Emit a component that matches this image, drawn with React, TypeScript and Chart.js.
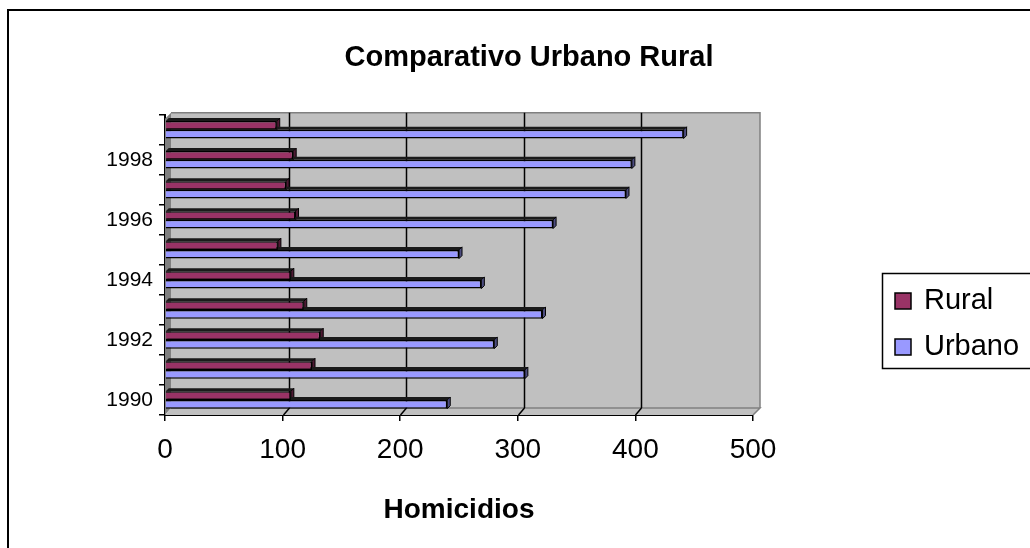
import { useEffect, useRef } from 'react';
import { Chart, registerables } from 'chart.js';

Chart.register(...registerables);

const years = ['1990', '1991', '1992', '1993', '1994', '1995', '1996', '1997', '1998', '1999'];
const rural = [107, 125, 132, 118, 107, 96, 111, 103, 109, 95];
const urbano = [240, 306, 280, 321, 269, 250, 330, 392, 397, 441];
const seriesNames = ['Rural', 'Urbano'];
const seriesColors = ['#993366', '#9999FF'];
const sideColors = ['#4d1a33', '#4d4d80'];
const xMin = 0;
const xMax = 500;
const xStep = 100;
const chartTitle = 'Comparativo Urbano Rural';
const xTitle = 'Homicidios';

const FONT = '"Liberation Sans", Arial, sans-serif';

const decor = {
  id: 'decor3d',
  beforeDatasetsDraw(chart: any) {
    const { ctx, chartArea: ca, scales } = chart;
    const x = scales.x;
    const bl = ca.left + 6;
    const bt = ca.top - 2;
    const br = ca.right + 7;
    const bb = ca.bottom - 7;
    ctx.save();
    // back wall
    ctx.fillStyle = '#C0C0C0';
    ctx.fillRect(bl, bt, br - bl, bb - bt);
    // left wall
    ctx.fillStyle = '#808080';
    ctx.beginPath();
    ctx.moveTo(ca.left, bt + 6);
    ctx.lineTo(bl, bt);
    ctx.lineTo(bl, bb);
    ctx.lineTo(ca.left, ca.bottom);
    ctx.closePath();
    ctx.fill();
    // floor
    ctx.fillStyle = '#C0C0C0';
    ctx.beginPath();
    ctx.moveTo(ca.left, ca.bottom);
    ctx.lineTo(bl, bb);
    ctx.lineTo(br, bb);
    ctx.lineTo(ca.right, ca.bottom);
    ctx.closePath();
    ctx.fill();
    ctx.strokeStyle = '#808080';
    ctx.lineWidth = 1.5;
    ctx.beginPath();
    ctx.moveTo(bl, bb);
    ctx.lineTo(br, bb);
    ctx.lineTo(ca.right, ca.bottom);
    ctx.stroke();
    // back wall border top/right
    ctx.beginPath();
    ctx.moveTo(bl, bt);
    ctx.lineTo(br, bt);
    ctx.lineTo(br, bb);
    ctx.stroke();
    // gridlines
    ctx.strokeStyle = '#000';
    ctx.lineWidth = 1.5;
    for (let v = xMin + xStep; v < xMax; v += xStep) {
      const px = Math.round(x.getPixelForValue(v)) + 0.5;
      ctx.beginPath();
      ctx.moveTo(px + 6, bt);
      ctx.lineTo(px + 6, bb);
      ctx.moveTo(px + 6, bb);
      ctx.lineTo(px, ca.bottom);
      ctx.stroke();
    }
    // 3D faces of bars
    chart.data.datasets.forEach((ds: any, di: number) => {
      const meta = chart.getDatasetMeta(di);
      meta.data.forEach((el: any) => {
        const h = el.height;
        const top = el.y - h / 2;
        const bot = el.y + h / 2;
        const d = 3;
        ctx.fillStyle = '#1a1a1a';
        ctx.beginPath();
        ctx.moveTo(el.base, top);
        ctx.lineTo(el.base + d, top - d);
        ctx.lineTo(el.x + d, top - d);
        ctx.lineTo(el.x, top);
        ctx.closePath();
        ctx.fill();
        ctx.fillStyle = sideColors[di];
        ctx.strokeStyle = '#000';
        ctx.lineWidth = 1;
        ctx.beginPath();
        ctx.moveTo(el.x, top);
        ctx.lineTo(el.x + d, top - d);
        ctx.lineTo(el.x + d, bot - d);
        ctx.lineTo(el.x, bot);
        ctx.closePath();
        ctx.fill();
        ctx.stroke();
      });
    });
    ctx.restore();
  },
  afterDraw(chart: any) {
    const { ctx } = chart;
    ctx.save();
    // outer frame
    ctx.fillStyle = '#000';
    ctx.fillRect(7, 9, 1100, 2);
    ctx.fillRect(7, 9, 2, 600);
    // legend
    ctx.strokeStyle = '#000';
    ctx.lineWidth = 1.5;
    ctx.strokeRect(882.5, 273.5, 300, 95);
    ctx.font = '29px ' + FONT;
    ctx.textBaseline = 'middle';
    ctx.textAlign = 'left';
    const rowsY = [301, 347];
    seriesNames.forEach((name, i) => {
      const y = rowsY[i];
      ctx.fillStyle = seriesColors[i];
      ctx.fillRect(895, y - 8, 16, 16);
      ctx.lineWidth = 1.5;
      ctx.strokeRect(895, y - 8, 16, 16);
      ctx.fillStyle = '#000';
      ctx.fillText(name, 924, y);
    });
    ctx.restore();
  },
};

export default function App() {
  const ref = useRef<HTMLCanvasElement | null>(null);
  useEffect(() => {
    if (!ref.current) return;
    const chart = new Chart(ref.current, {
      type: 'bar',
      data: {
        labels: years,
        datasets: [
          {
            label: seriesNames[0],
            data: rural,
            backgroundColor: seriesColors[0],
            borderColor: '#000',
            borderWidth: 1.5,
            categoryPercentage: 0.58,
            barPercentage: 1,
          },
          {
            label: seriesNames[1],
            data: urbano,
            backgroundColor: seriesColors[1],
            borderColor: '#000',
            borderWidth: 1.5,
            categoryPercentage: 0.58,
            barPercentage: 1,
          },
        ],
      },
      options: {
        indexAxis: 'y',
        responsive: false,
        animation: false,
        layout: { padding: 0 },
        plugins: {
          legend: { display: false },
          tooltip: { enabled: false },
          title: {
            display: true,
            text: chartTitle,
            color: '#000',
            font: { family: FONT, size: 29, weight: 'bold' },
            padding: { top: 41, bottom: 39 },
          },
        },
        scales: {
          x: {
            type: 'linear',
            position: 'bottom',
            min: xMin,
            max: xMax,
            ticks: { stepSize: xStep, color: '#000', font: { family: FONT, size: 28 }, padding: 12 },
            grid: { drawOnChartArea: false, drawTicks: true, tickLength: 6, color: '#000', lineWidth: 1.5 },
            border: { display: true, color: '#000', width: 2 },
            title: {
              display: true,
              text: xTitle,
              color: '#000',
              font: { family: FONT, size: 28, weight: 'bold' },
              padding: { top: 0, bottom: 21 },
            },
            afterFit: (s: any) => {
              s.height = 133;
            },
          },
          y: {
            type: 'category',
            position: 'left',
            reverse: true,
            offset: true,
            ticks: {
              autoSkip: false,
              color: '#000',
              font: { family: FONT, size: 21 },
              padding: 6,
              callback: (_v: any, i: number) => (i % 2 === 0 ? years[i] : ''),
            },
            grid: { offset: true, drawOnChartArea: false, drawTicks: true, tickLength: 6, color: '#000', lineWidth: 1.5 },
            border: { display: true, color: '#000', width: 2 },
            afterFit: (s: any) => {
              s.width = 165;
            },
          },
          yR: {
            type: 'linear',
            position: 'right',
            display: true,
            ticks: { display: false },
            grid: { display: false },
            border: { display: false },
            afterFit: (s: any) => {
              s.width = 305;
            },
          },
        },
      },
      plugins: [decor],
    } as any);
    return () => chart.destroy();
  }, []);
  return (
    <div style={{ position: 'fixed', left: 0, top: 0, width: 1030, height: 548, overflow: 'hidden', background: '#fff' }}>
      <canvas ref={ref} width={1058} height={548} style={{ display: 'block' }} />
    </div>
  );
}
